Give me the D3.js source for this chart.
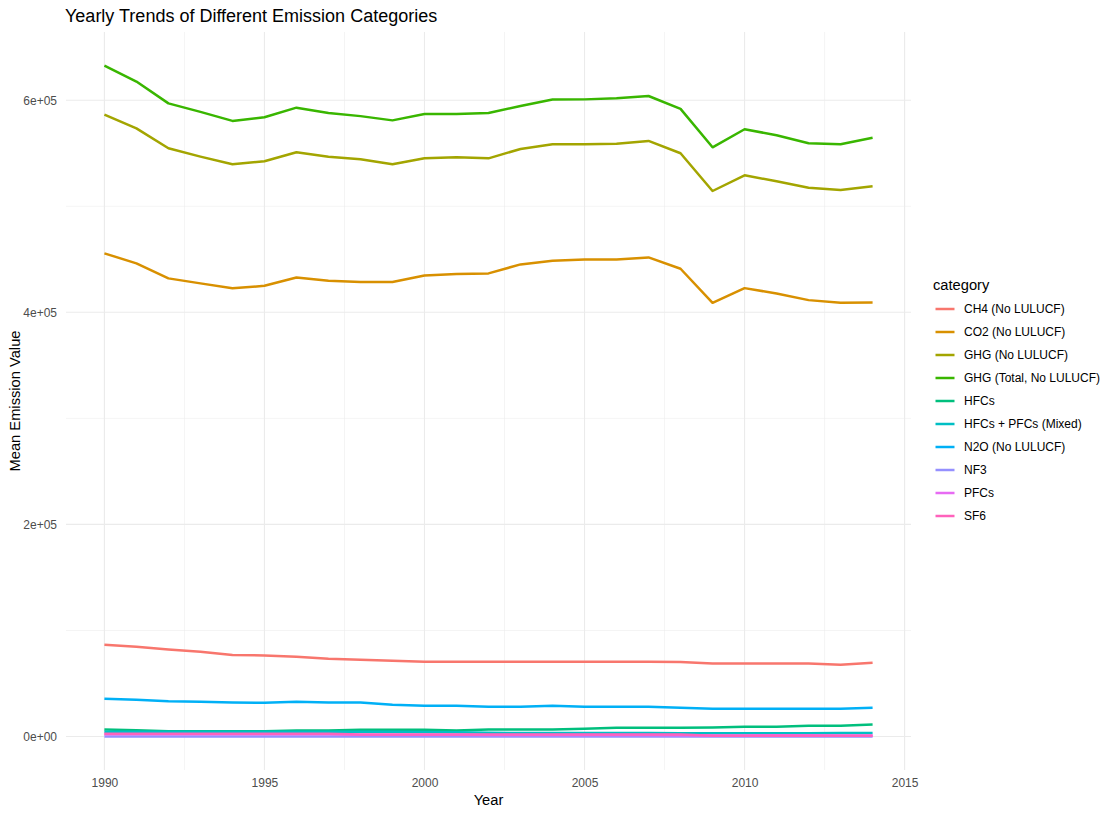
<!DOCTYPE html>
<html>
<head>
<meta charset="utf-8">
<script src="https://cdn.jsdelivr.net/npm/d3@7"></script>
<style>
  body { margin: 0; background: #fff; }
  text { font-family: "Liberation Sans", Arial, sans-serif; }
</style>
</head>
<body>
<div id="chart"></div>
<script>
// values
var years = d3.range(1990, 2015)

var ch4 = [86.5, 84.7, 82.1, 79.9, 76.8, 76.5, 75.2, 73.3, 72.4, 71.4, 70.5, 70.5, 70.5, 70.5, 70.5, 70.5, 70.5, 70.5, 70.2, 68.9, 68.9, 68.9, 68.9, 67.7, 69.6]
var co2 = [455.6, 446.1, 432.0, 427.3, 422.6, 425.0, 432.9, 429.8, 428.5, 428.5, 434.8, 436.1, 436.7, 445.2, 448.6, 449.9, 449.9, 451.8, 441.1, 409.0, 422.8, 417.8, 411.5, 409.0, 409.3]
var ghg = [586.4, 573.5, 554.7, 546.8, 539.6, 542.4, 550.9, 546.8, 544.3, 539.6, 545.2, 546.2, 545.2, 554.0, 558.5, 558.5, 559.0, 561.6, 550.0, 514.4, 529.2, 523.5, 517.5, 515.3, 518.8]
var ghgTotal = [632.7, 617.6, 597.0, 589.0, 580.5, 584.0, 593.0, 588.0, 585.0, 581.0, 587.0, 587.0, 588.0, 594.6, 600.6, 600.8, 601.8, 604.0, 591.8, 555.6, 572.6, 567.0, 559.4, 558.5, 564.7]
var hfcs = [6.6, 6.0, 5.0, 5.0, 5.0, 5.0, 5.7, 5.7, 6.3, 6.3, 6.3, 5.7, 6.6, 6.6, 6.6, 7.2, 8.2, 8.2, 8.2, 8.5, 9.1, 9.1, 10.1, 10.1, 11.3]
var hfcsPfcs = [4.6, 4.6, 4.6, 4.6, 4.6, 4.6, 4.6, 4.6, 4.4, 4.4, 4.2, 4.0, 3.6, 3.2, 3.2, 3.2, 3.2, 3.2, 3.0, 3.0, 3.0, 3.0, 3.0, 3.2, 3.2]
var n2o = [35.6, 34.6, 33.3, 32.7, 32.1, 31.8, 32.7, 32.1, 32.1, 29.9, 29.0, 29.0, 28.0, 28.0, 29.0, 28.0, 28.0, 28.0, 27.1, 26.1, 26.1, 26.1, 26.1, 26.1, 27.1]
var nf3 = [0.05, 0.05, 0.05, 0.05, 0.05, 0.05, 0.05, 0.05, 0.05, 0.05, 0.05, 0.05, 0.05, 0.05, 0.05, 0.05, 0.05, 0.05, 0.05, 0.05, 0.05, 0.05, 0.05, 0.05, 0.05]
var pfcs = [2.2, 2.2, 2.2, 2.2, 2.2, 2.2, 2.2, 2.2, 1.6, 1.6, 1.6, 1.6, 1.5, 1.5, 1.5, 1.5, 1.5, 1.5, 1.2, 1.0, 1.0, 1.2, 1.2, 1.0, 1.0]
var sf6 = [2.5, 2.5, 2.5, 2.5, 2.5, 2.5, 2.5, 2.5, 1.8, 1.8, 1.8, 1.8, 1.8, 1.8, 1.8, 1.8, 1.8, 1.8, 1.8, 0.8, 0.8, 0.8, 0.8, 0.8, 0.8]

var categories = ['CH4 (No LULUCF)', 'CO2 (No LULUCF)', 'GHG (No LULUCF)', 'GHG (Total, No LULUCF)', 'HFCs',
  'HFCs + PFCs (Mixed)', 'N2O (No LULUCF)', 'NF3', 'PFCs', 'SF6']
var seriesValues = [ch4, co2, ghg, ghgTotal, hfcs, hfcsPfcs, n2o, nf3, pfcs, sf6]
var colors = ['#F8766D', '#D89000', '#A3A500', '#39B600', '#00BF7D', '#00BFC4', '#00B0F6', '#9590FF', '#E76BF3', '#FF62BC']

var xTicks = [1990, 1995, 2000, 2005, 2010, 2015]
var xMinor = [1992.5, 1997.5, 2002.5, 2007.5, 2012.5]
var yTicks = [0, 200000, 400000, 600000]
var yTickLabels = ['0e+00', '2e+05', '4e+05', '6e+05']
var yMinor = [100000, 300000, 500000]

var W = 1110
var H = 815
var panel = { left: 66, right: 911, top: 32, bottom: 770 }

var series = categories.map(function (c, i) {
  return { name: c, color: colors[i], values: years.map(function (y, j) { return { year: y, v: seriesValues[i][j] * 1000 } }) }
})

var allV = []
series.forEach(function (s) { s.values.forEach(function (d) { allV.push(d.v) }) })
var vMin = d3.min(allV)
var vMax = d3.max(allV)
var xPad = (2014 - 1990) * 0.05
var yPad = (vMax - vMin) * 0.05

var x = d3.scaleLinear().domain([1990 - xPad, 2014 + xPad]).range([panel.left, panel.right])
var y = d3.scaleLinear().domain([vMin - yPad, vMax + yPad]).range([panel.bottom, panel.top])

var svg = d3.select('#chart').append('svg').attr('width', W).attr('height', H)

var grid = svg.append('g')
grid.selectAll('line.xminor').data(xMinor).enter().append('line')
  .attr('x1', function (d) { return x(d) }).attr('x2', function (d) { return x(d) })
  .attr('y1', panel.top).attr('y2', panel.bottom)
  .attr('stroke', '#EBEBEB').attr('stroke-width', 0.55)
grid.selectAll('line.yminor').data(yMinor).enter().append('line')
  .attr('y1', function (d) { return y(d) }).attr('y2', function (d) { return y(d) })
  .attr('x1', panel.left).attr('x2', panel.right)
  .attr('stroke', '#EBEBEB').attr('stroke-width', 0.55)
grid.selectAll('line.xmajor').data(xTicks).enter().append('line')
  .attr('x1', function (d) { return x(d) }).attr('x2', function (d) { return x(d) })
  .attr('y1', panel.top).attr('y2', panel.bottom)
  .attr('stroke', '#EBEBEB').attr('stroke-width', 1.1)
grid.selectAll('line.ymajor').data(yTicks).enter().append('line')
  .attr('y1', function (d) { return y(d) }).attr('y2', function (d) { return y(d) })
  .attr('x1', panel.left).attr('x2', panel.right)
  .attr('stroke', '#EBEBEB').attr('stroke-width', 1.1)

var line = d3.line()
  .x(function (d) { return x(d.year) })
  .y(function (d) { return y(d.v) })

svg.append('g').selectAll('path').data(series).enter().append('path')
  .attr('d', function (d) { return line(d.values) })
  .attr('fill', 'none')
  .attr('stroke', function (d) { return d.color })
  .attr('stroke-width', 2.5)
  .attr('stroke-linejoin', 'round')

// axes
var xAxis = d3.axisBottom(x).tickValues(xTicks).tickSize(0).tickPadding(8).tickFormat(d3.format('d'))
var gx = svg.append('g').attr('transform', 'translate(0,' + panel.bottom + ')').call(xAxis)
gx.select('.domain').remove()
gx.selectAll('text').attr('fill', '#4D4D4D').style('font-size', '12px').style('font-family', '"Liberation Sans", Arial, sans-serif')

var yAxis = d3.axisLeft(y).tickValues(yTicks).tickSize(0).tickPadding(9)
  .tickFormat(function (d, i) { return yTickLabels[i] })
var gy = svg.append('g').attr('transform', 'translate(' + panel.left + ',0)').call(yAxis)
gy.select('.domain').remove()
gy.selectAll('text').attr('fill', '#4D4D4D').style('font-size', '12px').style('font-family', '"Liberation Sans", Arial, sans-serif')

svg.append('text')
  .attr('x', (panel.left + panel.right) / 2).attr('y', 805)
  .attr('text-anchor', 'middle').style('font-size', '14.7px').attr('fill', '#000')
  .text('Year')

svg.append('text')
  .attr('transform', 'translate(20,' + ((panel.top + panel.bottom) / 2) + ') rotate(-90)')
  .attr('text-anchor', 'middle').style('font-size', '14.7px').attr('fill', '#000')
  .text('Mean Emission Value')

svg.append('text')
  .attr('x', 65).attr('y', 22)
  .style('font-size', '18px').attr('fill', '#000')
  .text('Yearly Trends of Different Emission Categories')

// legend
var legend = svg.append('g').attr('transform', 'translate(933,0)')
legend.append('text').attr('x', 0).attr('y', 290)
  .style('font-size', '14.7px').attr('fill', '#000').text('category')
var items = legend.selectAll('g.item').data(series).enter().append('g')
  .attr('transform', function (d, i) { return 'translate(0,' + (309 + i * 23) + ')' })
items.append('line').attr('x1', 2.5).attr('x2', 21.5).attr('y1', 0).attr('y2', 0)
  .attr('stroke', function (d) { return d.color }).attr('stroke-width', 2.5)
items.append('text').attr('x', 31).attr('y', 4.2)
  .style('font-size', '12px').attr('fill', '#000')
  .text(function (d) { return d.name })
</script>
</body>
</html>
